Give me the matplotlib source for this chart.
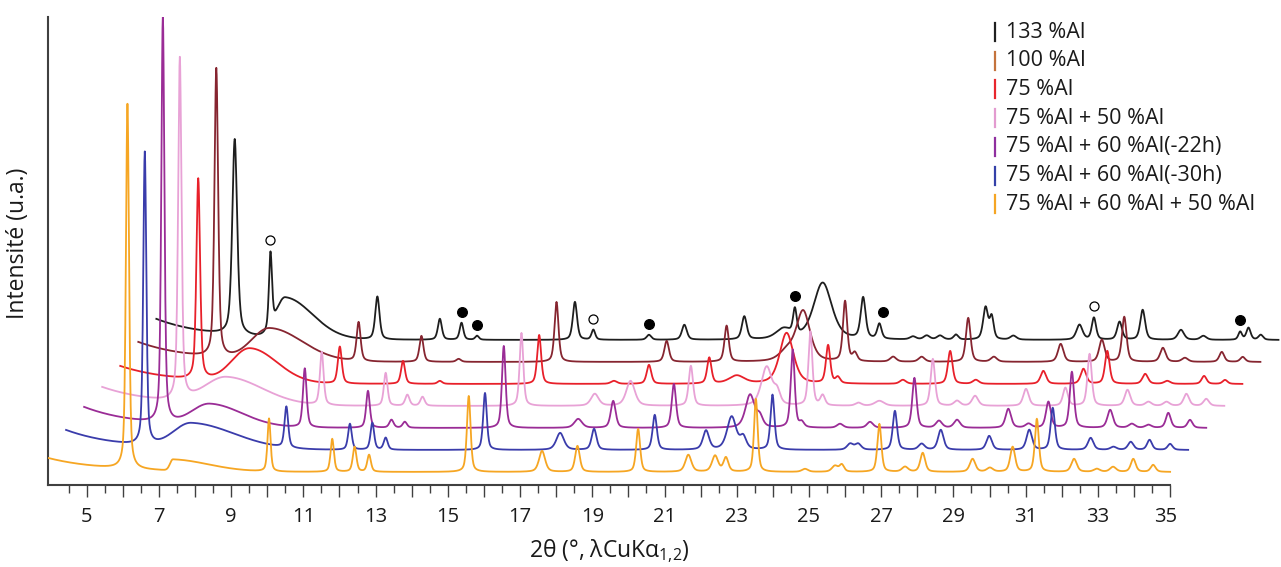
import numpy as np
import matplotlib
matplotlib.use("Agg")
import matplotlib.pyplot as plt
from matplotlib.lines import Line2D
from matplotlib.ticker import FixedLocator, FuncFormatter
from matplotlib.transforms import ScaledTranslation

# ---------------- data (true 2-theta) ----------------
labels = ["133 %Al", "100 %Al", "75 %Al", "75 %Al + 50 %Al",
          "75 %Al + 60 %Al(-22h)", "75 %Al + 60 %Al(-30h)",
          "75 %Al + 60 %Al + 50 %Al"]

# peaks: (2theta, height, fwhm)
peaks_133 = [(6.10, 196, 0.16), (7.09, 75, 0.10), (10.05, 43, 0.14), (11.78, 21, 0.13),
             (12.38, 17, 0.12), (12.81, 4, 0.12), (15.52, 38, 0.14), (16.03, 10, 0.12),
             (17.57, 5, 0.15), (18.55, 15, 0.16), (20.21, 23, 0.16), (21.30, 10, 0.5),
             (21.61, 25, 0.12), (22.38, 57, 0.6), (23.50, 41, 0.16), (23.95, 15, 0.14),
             (24.88, 3, 0.2), (25.26, 4, 0.2), (25.63, 4, 0.2), (26.07, 5, 0.15),
             (26.89, 32, 0.16), (27.06, 22, 0.13), (27.66, 4, 0.2), (29.49, 15, 0.2),
             (29.89, 22, 0.14), (30.60, 18, 0.16), (31.24, 30, 0.16), (32.30, 10, 0.2),
             (32.92, 4, 0.2), (33.94, 8, 0.12), (34.17, 12, 0.14), (34.51, 5, 0.15)]
peaks_100 = [(6.09, 289, 0.12), (10.03, 39, 0.13), (11.77, 26, 0.13), (12.80, 3, 0.15),
             (15.51, 60, 0.13), (18.56, 21, 0.15), (20.22, 36, 0.14), (21.90, 10, 0.5),
             (22.34, 50, 0.45), (23.50, 60, 0.14), (23.77, 8, 0.15), (24.83, 5, 0.2),
             (25.62, 5, 0.2), (26.91, 44, 0.15), (27.62, 5, 0.2), (29.47, 18, 0.18),
             (30.61, 22, 0.18), (31.23, 45, 0.15), (32.30, 14, 0.18), (32.91, 4, 0.2),
             (33.93, 10, 0.16), (34.51, 5, 0.16)]
peaks_75 = [(6.09, 201, 0.12), (10.01, 37, 0.13), (11.76, 23, 0.13), (12.78, 3, 0.15),
            (15.53, 49, 0.13), (17.60, 3, 0.2), (18.57, 19, 0.15), (20.24, 26, 0.14),
            (21.00, 8, 0.5), (22.38, 51, 0.45), (23.53, 38, 0.14), (23.80, 6, 0.15),
            (25.60, 4, 0.2), (26.91, 33, 0.15), (27.62, 4, 0.2), (29.49, 13, 0.18),
            (30.60, 15, 0.18), (31.26, 33, 0.15), (32.31, 10, 0.18), (32.92, 3, 0.2),
            (33.94, 8, 0.16), (34.52, 4, 0.16)]
peaks_75_50 = [(6.08, 342, 0.11), (10.01, 53, 0.12), (11.78, 33, 0.12), (12.38, 11, 0.14),
               (12.80, 9, 0.14), (15.54, 73, 0.12), (17.57, 12, 0.25), (18.56, 25, 0.28),
               (20.23, 40, 0.14), (22.33, 39, 0.35), (22.62, 12, 0.2), (23.54, 74, 0.13),
               (23.88, 10, 0.15), (24.87, 3, 0.2), (25.45, 5, 0.3), (26.93, 47, 0.14),
               (27.60, 5, 0.2), (28.10, 10, 0.2), (29.51, 17, 0.18), (30.60, 18, 0.16),
               (31.27, 52, 0.14), (32.32, 16, 0.18), (32.90, 4, 0.2), (33.40, 4, 0.2),
               (33.95, 12, 0.18), (34.50, 7, 0.18)]
peaks_75_60_22 = [(6.11, 407, 0.10), (10.04, 59, 0.12), (11.79, 37, 0.12), (12.44, 8, 0.14),
                  (12.81, 6, 0.14), (15.55, 82, 0.12), (17.61, 9, 0.25), (18.58, 27, 0.16),
                  (20.26, 44, 0.14), (22.37, 33, 0.3), (22.64, 10, 0.2), (23.55, 78, 0.13),
                  (23.80, 5, 0.15), (24.86, 4, 0.2), (25.69, 6, 0.2), (26.92, 50, 0.14),
                  (27.60, 7, 0.2), (28.10, 8, 0.2), (29.52, 19, 0.18), (30.08, 4, 0.2),
                  (30.63, 26, 0.16), (31.28, 56, 0.14), (32.34, 18, 0.18), (32.94, 4, 0.2),
                  (33.40, 3, 0.2), (33.95, 15, 0.16), (34.55, 8, 0.16)]
peaks_75_60_30 = [(6.11, 293, 0.10), (10.03, 41, 0.12), (11.79, 26, 0.12), (12.41, 27, 0.12),
                  (12.78, 12, 0.13), (15.53, 57, 0.12), (17.61, 17, 0.25), (18.55, 21, 0.16),
                  (20.23, 35, 0.14), (21.65, 19, 0.2), (22.36, 33, 0.3), (22.68, 12, 0.2),
                  (23.49, 55, 0.13), (25.64, 6, 0.2), (25.86, 6, 0.2), (26.88, 39, 0.14),
                  (27.62, 6, 0.2), (28.15, 20, 0.18), (29.49, 14, 0.18), (30.60, 20, 0.18),
                  (31.25, 42, 0.14), (32.30, 12, 0.18), (32.93, 3, 0.2), (33.41, 8, 0.18),
                  (33.93, 10, 0.16), (34.50, 6, 0.16)]
peaks_75_60_50 = [(6.13, 365, 0.10), (10.05, 53, 0.10), (11.80, 33, 0.11), (12.42, 25, 0.12),
                  (12.82, 17, 0.12), (15.58, 76, 0.12), (17.61, 21, 0.2), (18.59, 26, 0.15),
                  (20.27, 43, 0.13), (21.66, 17, 0.2), (22.40, 16, 0.2), (22.70, 14, 0.16),
                  (23.53, 73, 0.12), (24.89, 3, 0.2), (25.72, 6, 0.2), (25.91, 7, 0.15),
                  (26.95, 48, 0.13), (27.66, 5, 0.2), (28.15, 19, 0.16), (29.53, 13, 0.18),
                  (30.01, 4, 0.2), (30.64, 25, 0.16), (31.31, 53, 0.13), (32.34, 13, 0.18),
                  (32.97, 3, 0.2), (33.42, 5, 0.2), (33.98, 13, 0.16), (34.53, 7, 0.16)]

# amorphous hump: (centre, height, left width, right width)
humps = [(7.50, 40, 0.25, 0.75), (7.57, 32, 0.5, 0.9), (7.52, 34, 0.5, 0.75),
         (7.37, 27, 0.6, 1.0), (7.41, 22, 0.5, 0.9), (7.40, 25, 0.5, 1.2),
         (7.39, 11, 0.08, 1.0)]
# low-angle background level at the start of the scan
low_angle = [21, 20, 18, 19, 21, 20, 14]

# reflections marked on the 133 %Al pattern
marker_pos = [7.09, 12.38, 12.81, 16.03, 17.57, 21.61, 24.05, 29.89, 33.94]
marker_filled = [False, True, True, False, True, True, True, False, True]

two_theta_start, two_theta_end = 3.93, 35.0

# ---------------- styles / layout ----------------
trace_colors = ["#1e1e1e", "#862530", "#e8202a", "#e8a2d6", "#9a2c96", "#3a3cab", "#f6a623"]
legend_colors = ["#202020", "#c4733c", "#e8262d", "#e39bd0", "#8f2f9f", "#3440a8", "#f5a524"]
x_step, y_base, y_step = 0.5, 13.0, 22.0

all_peaks = [peaks_133, peaks_100, peaks_75, peaks_75_50,
             peaks_75_60_22, peaks_75_60_30, peaks_75_60_50]

FONT = "Open Sans"
plt.rcParams["font.family"] = [FONT, "DejaVu Sans"]
plt.rcParams["mathtext.default"] = "regular"

W, H = 1281, 567
fig = plt.figure(figsize=(W / 100, H / 100), dpi=100)
ax = fig.add_axes([48 / W, 82 / H, (W - 48) / W, 468 / H])

x = np.arange(two_theta_start, two_theta_end + 1e-9, 0.01)


def profile(xx, peaks, hump, low):
    y = low * np.exp(-(xx - two_theta_start) / 1.5)
    c, hh, sl, sr = hump
    s = np.where(xx < c, sl, sr)
    y = y + hh * np.exp(-0.5 * ((xx - c) / s) ** 2)
    for p, h, w in peaks:
        d = (xx - p) / (w / 2.0)
        y = y + h * (0.5 / (1 + d ** 2) + 0.5 * np.exp(-np.log(2) * d ** 2))
    return y


n = len(labels)
traces = []
for i in range(n):
    k = n - 1 - i  # stacking level: bottom pattern = 0
    y = profile(x, all_peaks[i], humps[i], low_angle[i])
    xs = x + x_step * k
    ys = y + y_base + y_step * k
    traces.append((xs, ys))

for i in range(n):
    xs, ys = traces[i]
    ax.plot(xs, ys, color=trace_colors[i], lw=1.3, zorder=2 + i, solid_joinstyle="round")

# markers on the top (133 %Al) pattern
k_top = n - 1
xs_top, ys_top = traces[0]
for p, f in zip(marker_pos, marker_filled):
    px = p + x_step * k_top
    win = (xs_top > px - 0.12) & (xs_top < px + 0.12)
    my = ys_top[win].max() + 11
    ax.plot(px, my, marker="o", ms=7 if f else 6.5,
            mfc="black" if f else "white", mec="black", mew=0.9, zorder=20)

ax.set_xlim(two_theta_start, 38.07)
ax.set_ylim(0, 468)
for s in ("top", "right"):
    ax.spines[s].set_visible(False)
ax.spines["bottom"].set_bounds(two_theta_start, 35.0)
for s in ("left", "bottom"):
    ax.spines[s].set_color("#404040")
    ax.spines[s].set_linewidth(1.5)
ax.set_yticks([])
ax.xaxis.set_major_locator(FixedLocator(np.arange(5, 36, 1)))
ax.xaxis.set_minor_locator(FixedLocator(np.arange(4.5, 35, 1)))
ax.xaxis.set_major_formatter(FuncFormatter(lambda v, _: f"{int(round(v))}" if int(round(v)) % 2 else ""))
ax.tick_params(axis="x", which="major", length=8.6, width=1.0, color="#404040",
               labelsize=14.5, pad=7.5, labelcolor="#1a1a1a")
ax.tick_params(axis="x", which="minor", length=5.8, width=1.0, color="#404040")

# last tick label sits slightly left of its tick in the original
fig.canvas.draw()
for tick in ax.xaxis.get_major_ticks():
    if tick.label1.get_text() == "35":
        tick.label1.set_horizontalalignment("right")
        tick.label1.set_transform(tick.label1.get_transform()
                                  + ScaledTranslation(0.07, 0, fig.dpi_scale_trans))

fig.text(609 / W, 1 - 551 / H, r"2θ (°, λCuKα$_{1{,}2}$)", ha="center", va="center",
         fontsize=16.5, color="#1a1a1a")
fig.text(18 / W, 1 - 243 / H, "Intensité (u.a.)", ha="center", va="center",
         rotation=90, fontsize=16.5, color="#1a1a1a")

# legend: short vertical colour bars + labels
for i, (lab, col) in enumerate(zip(labels, legend_colors)):
    yc = 32 + 28.7 * i
    fig.add_artist(Line2D([995 / W, 995 / W], [1 - (yc - 9) / H, 1 - (yc + 9) / H],
                          color=col, lw=1.6, transform=fig.transFigure))
    fig.text(1006 / W, 1 - yc / H, lab, ha="left", va="center", fontsize=15.5,
             color="#1a1a1a")

fig.savefig("out.png", dpi=100)
